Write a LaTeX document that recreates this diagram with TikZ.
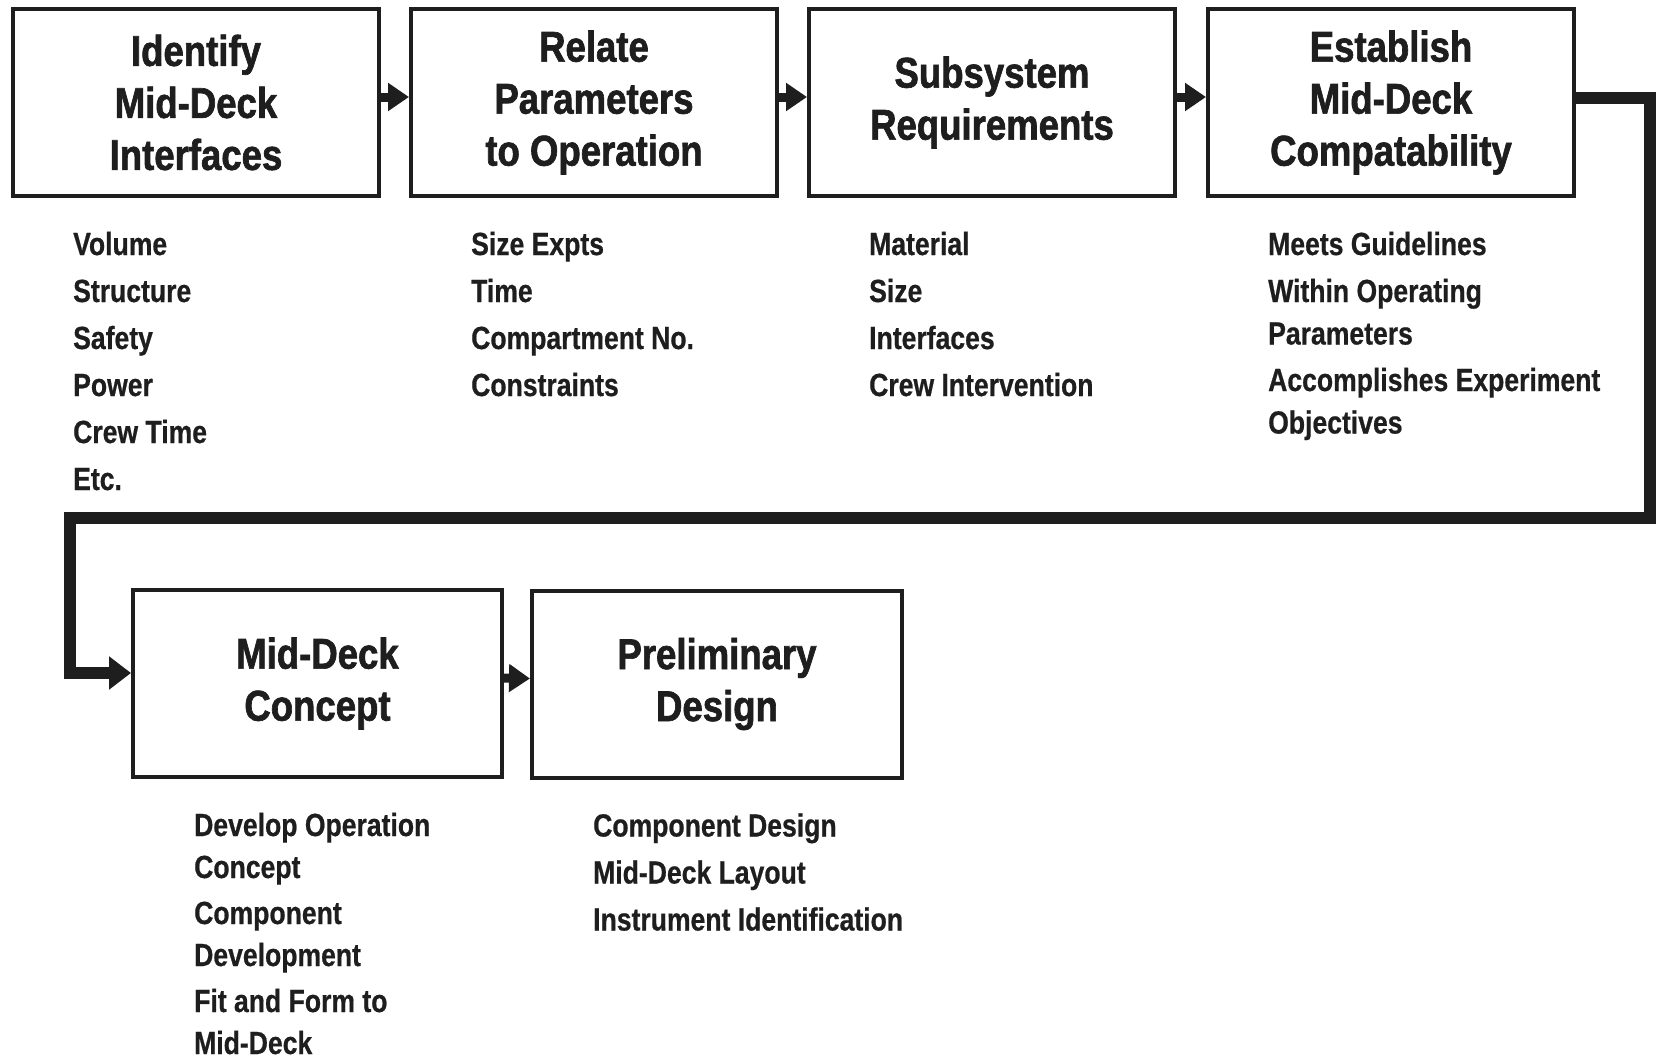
\documentclass[tikz,border=0pt]{standalone}
\usepackage{fontspec}
\newfontfamily\titlefont[FakeStretch=0.85,FakeBold=1.5]{Liberation Sans}
\newfontfamily\listfont[FakeStretch=0.83,FakeBold=0.6]{Liberation Sans}
\usetikzlibrary{arrows.meta}
\definecolor{ink}{HTML}{1E1E1E}
\begin{document}
\begin{tikzpicture}[x=1pt,y=-1pt,
  box/.style={draw=ink, line width=4pt, minimum width=366pt, minimum height=187pt,
    inner sep=0pt, align=center, text=ink,
    font=\titlefont\bfseries\fontsize{43}{52}\selectfont},
  item/.style={anchor=base west, inner sep=0pt, text=ink,
    font=\listfont\bfseries\fontsize{32}{42}\selectfont},
  flow/.style={draw=ink, line width=9pt, -{Triangle[length=21pt,width=27pt]}},
  loopflow/.style={draw=ink, line width=12pt, -{Triangle[length=22pt,width=32pt]}}]
\useasboundingbox (0,0) rectangle (1666,1060);
\fill[white] (0,0) rectangle (1666,1060);

% boxes
\node[box] (b1) at (196,102.5) {Identify\\Mid-Deck\\Interfaces};
\node[box] (b2) at (594,102.5) {Relate\\Parameters\\to Operation};
\node[box] (b3) at (992,102.5) {Subsystem\\Requirements};
\node[box] (b4) at (1391,102.5) {Establish\\Mid-Deck\\Compatability};
\node[box, minimum width=369pt] (b5) at (317.5,683.5) {Mid-Deck\\Concept};
\node[box, minimum width=370pt] (b6) at (717,684) {Preliminary\\Design};

% connectors
\draw[flow] ([yshift=5.5pt]b1.east) -- ([yshift=5.5pt]b2.west);
\draw[flow] ([yshift=5.5pt]b2.east) -- ([yshift=5.5pt]b3.west);
\draw[flow] ([yshift=5.5pt]b3.east) -- ([yshift=5.5pt]b4.west);
\draw[flow] ([yshift=5.5pt]b5.east) -- ([yshift=5.5pt]b6.west);
\coordinate (r1) at (1650,518);
\coordinate (l1) at (70,518);
\draw[loopflow] ([yshift=5pt]b4.east) -| (r1) -- (l1) |- ([yshift=10.5pt]b5.west);

% lists under box 1
\node[item] (a1) at (73,255) {Volume};
\node[item] (a2) at (73,302) {Structure};
\node[item] (a3) at (73,349) {Safety};
\node[item] (a4) at (73,396) {Power};
\node[item] (a5) at (73,443) {Crew Time};
\node[item] (a6) at (73,490) {Etc.};
% box 2
\node[item] (p1) at (471,255) {Size Expts};
\node[item] (p2) at (471,302) {Time};
\node[item] (p3) at (471,349) {Compartment No.};
\node[item] (p4) at (471,396) {Constraints};
% box 3
\node[item] (s1) at (869,255) {Material};
\node[item] (s2) at (869,302) {Size};
\node[item] (s3) at (869,349) {Interfaces};
\node[item] (s4) at (869,396) {Crew Intervention};
% box 4
\node[item] (e1) at (1268,255) {Meets Guidelines};
\node[item] (e2) at (1268,302) {Within Operating};
\node[item] (e3) at (1268,344.5) {Parameters};
\node[item] (e4) at (1268,391) {Accomplishes Experiment};
\node[item] (e5) at (1268,433.5) {Objectives};
% box 5
\node[item] (m1) at (194,836) {Develop Operation};
\node[item] (m2) at (194,878) {Concept};
\node[item] (m3) at (194,924) {Component};
\node[item] (m4) at (194,966) {Development};
\node[item] (m5) at (194,1012) {Fit and Form to};
\node[item] (m6) at (194,1054) {Mid-Deck};
% box 6
\node[item] (d1) at (593,836.5) {Component Design};
\node[item] (d2) at (593,883.5) {Mid-Deck Layout};
\node[item] (d3) at (593,930.5) {Instrument Identification};
\end{tikzpicture}
\end{document}
